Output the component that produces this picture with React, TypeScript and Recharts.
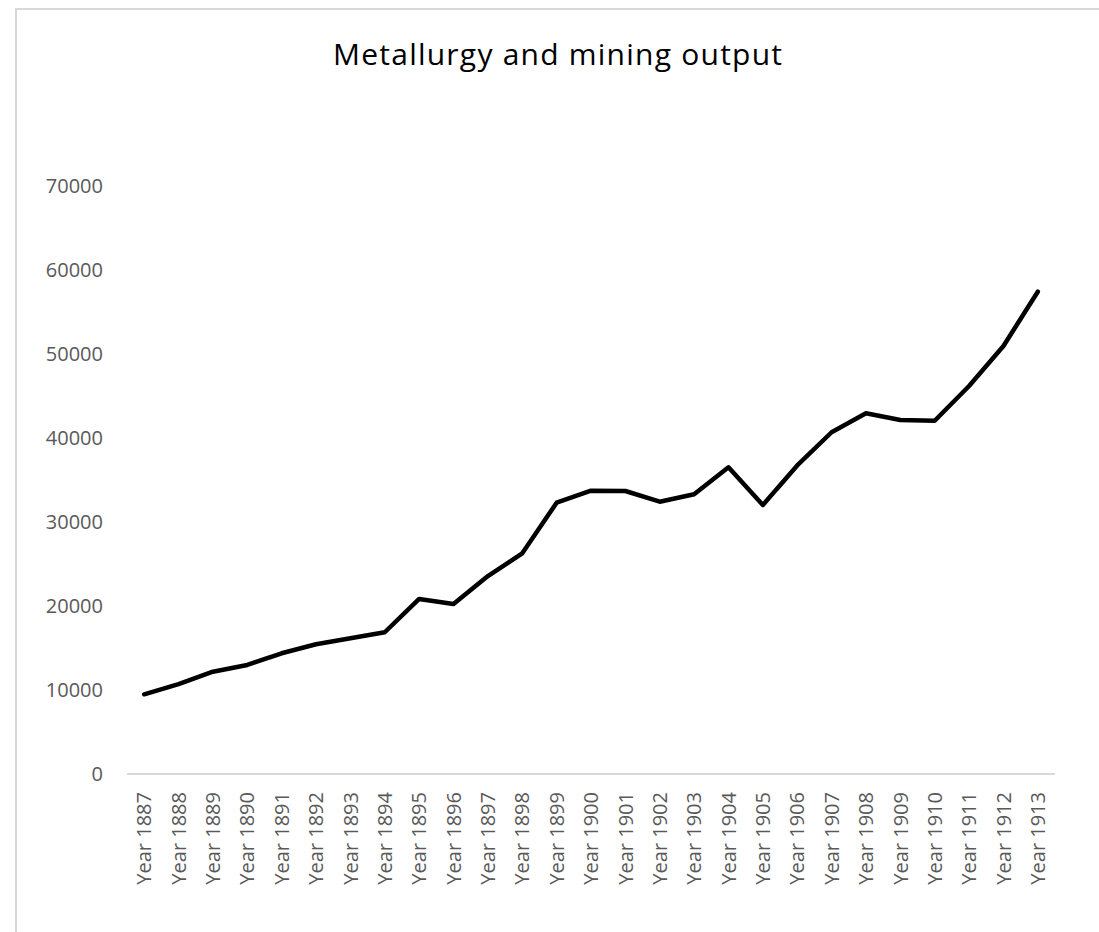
import React from "react";
import { LineChart, Line, XAxis, YAxis } from "recharts";

const years = [
  "Year 1887", "Year 1888", "Year 1889", "Year 1890", "Year 1891", "Year 1892",
  "Year 1893", "Year 1894", "Year 1895", "Year 1896", "Year 1897", "Year 1898",
  "Year 1899", "Year 1900", "Year 1901", "Year 1902", "Year 1903", "Year 1904",
  "Year 1905", "Year 1906", "Year 1907", "Year 1908", "Year 1909", "Year 1910",
  "Year 1911", "Year 1912", "Year 1913",
];

const output = [
  9480, 10700, 12170, 12970, 14360, 15430, 16140, 16860, 20820, 20220, 23550,
  26250, 32270, 33700, 33660, 32390, 33270, 36480, 32000, 36700, 40650, 42900,
  42110, 42020, 46150, 50910, 57370,
];

const yTicks = [0, 10000, 20000, 30000, 40000, 50000, 60000, 70000];

const title = "Metallurgy and mining output";

const data = years.map((year, i) => ({ year, value: output[i] }));

const FONT = "'Open Sans', sans-serif";
const TICK_COLOR = "#595959";
const BORDER = "#d9d9d9";

const XTick = (props: any) => {
  const { x, y, payload } = props;
  return (
    <text
      x={x}
      y={y}
      transform={`rotate(-90, ${x}, ${y})`}
      textAnchor="end"
      dy="0.36em"
      fill={TICK_COLOR}
      fontFamily={FONT}
      fontSize={20}
    >
      {payload.value}
    </text>
  );
};

export default function App() {
  const W = 1082;
  const H = 922;
  const plotW = W - 110 - 44;
  const half = plotW / years.length / 2;
  return (
    <div
      style={{
        position: "fixed",
        left: 15,
        top: 8,
        width: W,
        height: H,
        borderTop: `2px solid ${BORDER}`,
        borderLeft: `2px solid ${BORDER}`,
        background: "#fff",
      }}
    >
      <svg
        width={W}
        height={100}
        style={{ position: "absolute", left: 0, top: 0 }}
      >
        <text
          x={540.5}
          y={54.5}
          textAnchor="middle"
          fontFamily={FONT}
          fontSize={30}
          textLength={449}
          lengthAdjust="spacing"
          fill="#000"
        >
          {title}
        </text>
      </svg>
      <div style={{ position: "absolute", left: 0, top: 0 }}>
        <LineChart
          width={W}
          height={H}
          data={data}
          margin={{ top: 175.5, right: 44, left: 0, bottom: 0 }}
        >
          <XAxis
            dataKey="year"
            interval={0}
            height={158}
            padding={{ left: half, right: half }}
            axisLine={{ stroke: BORDER, strokeWidth: 2 }}
            tickLine={false}
            tickSize={0}
            tickMargin={18}
            tick={<XTick />}
          />
          <YAxis
            domain={[0, 70000]}
            ticks={yTicks}
            width={110}
            axisLine={false}
            tickLine={false}
            tickSize={0}
            tickMargin={24}
            tick={{ fill: TICK_COLOR, fontFamily: FONT, fontSize: 20 }}
          />
          <Line
            type="linear"
            dataKey="value"
            stroke="#000"
            strokeWidth={4.5}
            strokeLinecap="round"
            strokeLinejoin="round"
            dot={false}
            activeDot={false}
            isAnimationActive={false}
          />
        </LineChart>
      </div>
    </div>
  );
}
